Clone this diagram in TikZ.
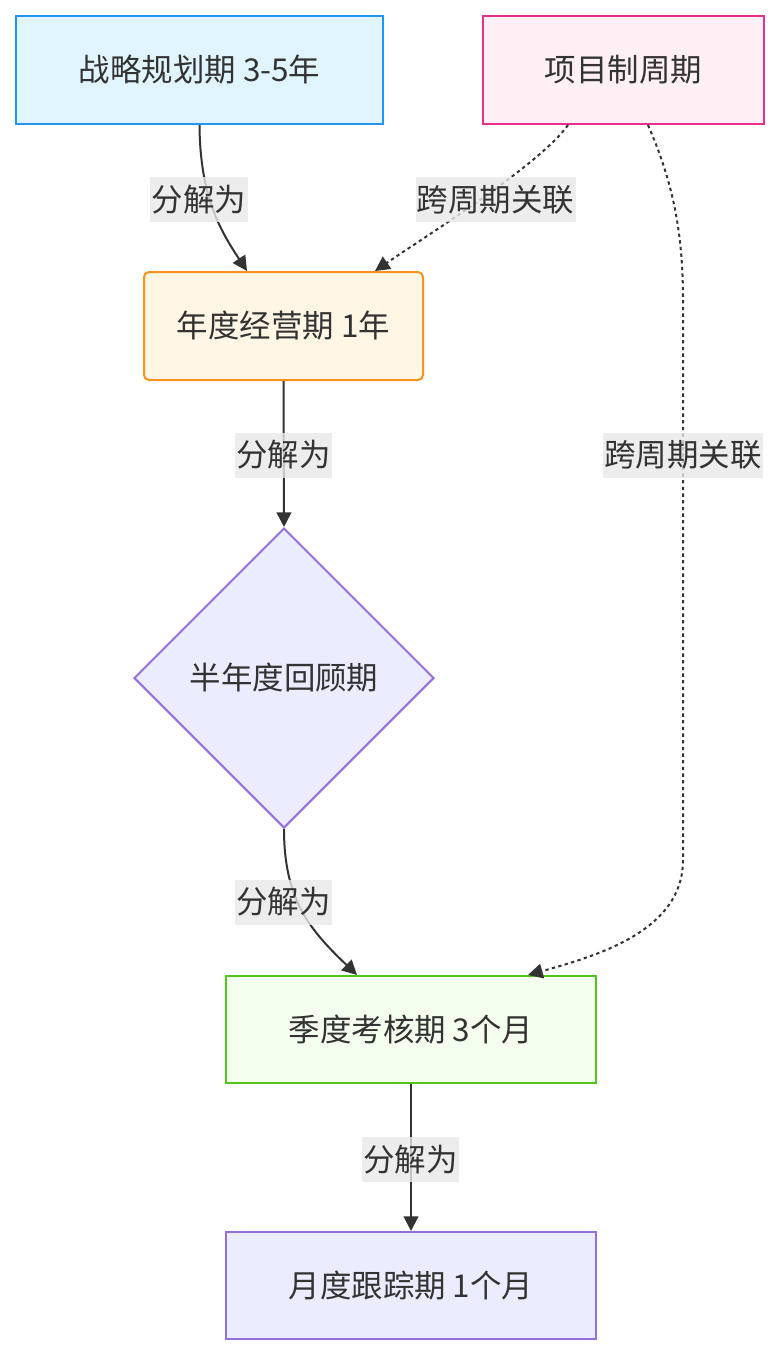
\documentclass[tikz,border=0pt]{standalone}
\usepackage{fontspec}
\newfontfamily\cjk{Noto Sans CJK SC}
\usepackage{xcolor}
\usepackage{tikz}
\usetikzlibrary{arrows.meta,calc,positioning,shapes.geometric}
\definecolor{ink}{HTML}{333333}
\definecolor{lblbg}{HTML}{E8E8E8}
\definecolor{stratfill}{HTML}{E1F5FE}\definecolor{stratdraw}{HTML}{2196F3}
\definecolor{projfill}{HTML}{FFF0F5}\definecolor{projdraw}{HTML}{E8308A}
\definecolor{yearfill}{HTML}{FFF6E5}\definecolor{yeardraw}{HTML}{F7931E}
\definecolor{halffill}{HTML}{ECECFF}\definecolor{halfdraw}{HTML}{9370DB}
\definecolor{quarfill}{HTML}{F4FEEE}\definecolor{quardraw}{HTML}{52C41A}

\begin{document}
\begin{tikzpicture}[x=0.75pt,y=-0.75pt,font=\cjk\fontsize{23.6}{28}\selectfont,
  box/.style={draw,line width=1.5pt,text=ink,inner sep=0pt,minimum height=81pt},
  lbl/.style={fill=lblbg,fill opacity=0.8,text opacity=1,text=ink,inner xsep=1pt,inner ysep=0pt,minimum height=33.75pt},
  link/.style={draw=ink,line width=1.5pt,-{Triangle[length=11pt,width=11pt]}},
  relate/.style={link,dash pattern=on 2.5pt off 2.5pt}]
\useasboundingbox (0,0) rectangle (778,1356);
% periods
\node[box,fill=stratfill,draw=stratdraw,minimum width=275.25pt] (strat) at (199.5,70) {战略规划期 3-5年};
\node[box,fill=projfill,draw=projdraw,minimum width=210.75pt] (proj) at (623.5,70) {项目制周期};
\node[box,fill=yearfill,draw=yeardraw,minimum width=209.25pt,rounded corners=3.75pt] (year) at (283.5,326) {年度经营期 1年};
\node[box,diamond,fill=halffill,draw=halfdraw,minimum width=225pt,minimum height=225pt] (half) at (284,678) {半年度回顾期};
\node[box,fill=quarfill,draw=quardraw,minimum width=277.5pt,minimum height=80.25pt] (quar) at (411,1029.5) {季度考核期 3个月};
\node[box,fill=halffill,draw=halfdraw,minimum width=277.5pt,minimum height=80.25pt] (month) at (411,1285.5) {月度跟踪期 1个月};
% links
\draw[link] (strat.south) .. controls (200,196) and (220,230) .. ($(year.north)+(-36.5,0)$);
\draw[link] (year.south) -- (half.north);
\draw[link] (half.south) .. controls (284,900) and (310,930) .. ($(quar.north)+(-54,0)$);
\draw[link] (quar.south) -- (month.north);
\draw[relate] ($(proj.south)+(-55.5,0)$) .. controls (540,165) and (420,240) .. ($(year.north)+(91.5,0)$);
\draw[relate] ($(proj.south)+(24.5,0)$) .. controls (672,180) and (683,230) .. (683,300) -- (683,860) .. controls (683,930) and (600,955) .. ($(quar.north)+(117,0)$);
% labels
\node[lbl] (l1) at (199,199.5) {分解为};
\node[lbl] (l2) at (495.5,199.5) {跨周期关联};
\node[lbl] (l3) at (683,455) {跨周期关联};
\node[lbl] (l4) at (283.5,455) {分解为};
\node[lbl] (l5) at (283.5,902) {分解为};
\node[lbl] (l6) at (410.5,1159.5) {分解为};
\end{tikzpicture}
\end{document}
